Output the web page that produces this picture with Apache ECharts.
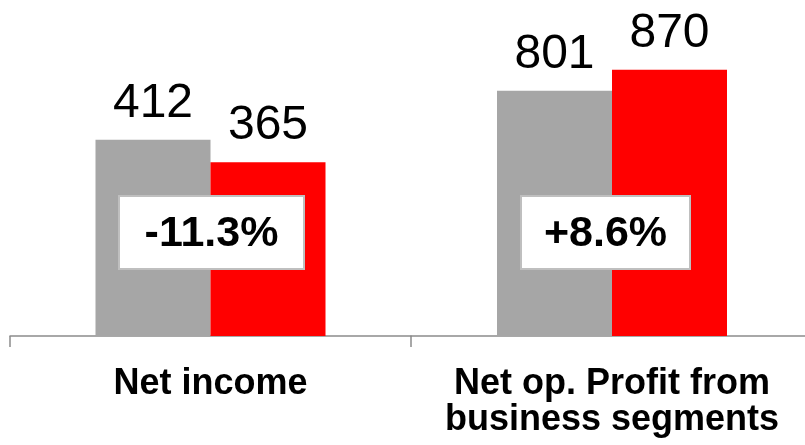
<!DOCTYPE html>
<html>
<head>
<meta charset="utf-8">
<script src="https://cdn.jsdelivr.net/npm/echarts@6/dist/echarts.min.js"></script>
<style>
  html, body { margin: 0; padding: 0; background: #fff; overflow: hidden; }
  /* 画布比窗口宽8px，右侧刻度落在可视区外 */
  #bar { width: 813px; height: 445px; }
</style>
</head>
<body>
<div id="bar"></div>
<script>
// 数据
var categories = ['Net income', 'Net op. Profit from\nbusiness segments'];
var priorValues = [412, 801];
var currentValues = [365, 870];
var changeLabels = ['-11.3%', '+8.6%'];
// 每组独立的y轴上限（原图两组比例不一致）
var axisMax = [630, 980];

var font = "'Liberation Sans', Arial, sans-serif";
var chart = echarts.init(document.getElementById('bar'));

var grids = [
  { left: 10, width: 401, top: 36, bottom: 109 },
  { left: 411, right: 0, top: 36, bottom: 109 }
];
var xAxes = [], yAxes = [], series = [];
categories.forEach(function (cat, i) {
  xAxes.push({
    type: 'category',
    gridIndex: i,
    data: [cat],
    axisLine: { lineStyle: { color: '#8c8c8c', width: 1.5 } },
    axisTick: { show: true, length: 11, lineStyle: { color: '#8c8c8c', width: 1.5 } },
    axisLabel: {
      margin: 30,
      color: '#000',
      fontFamily: font,
      fontWeight: 'bold',
      fontSize: 36,
      lineHeight: 36
    }
  });
  yAxes.push({ type: 'value', gridIndex: i, min: 0, max: axisMax[i], show: false, splitLine: { show: false } });
  var lbl = { show: true, position: 'top', distance: 12, color: '#000', fontFamily: font, fontSize: 48 };
  series.push({
    type: 'bar', xAxisIndex: i, yAxisIndex: i, barWidth: 115, barGap: 0,
    data: [priorValues[i]], itemStyle: { color: '#a6a6a6' }, label: lbl, silent: true
  });
  series.push({
    type: 'bar', xAxisIndex: i, yAxisIndex: i, barWidth: 115, barGap: 0,
    data: [currentValues[i]], itemStyle: { color: '#ff0000' }, label: lbl, silent: true
  });
});

// 变化率标注框
var boxes = [
  { cx: 211.5, w: 185 },
  { cx: 605.5, w: 169 }
];

chart.setOption({
  animation: false,
  grid: grids,
  xAxis: xAxes,
  yAxis: yAxes,
  series: series,
  graphic: boxes.map(function (b, i) {
    return {
      type: 'group',
      x: b.cx,
      y: 232.5,
      z: 100,
      children: [
        {
          type: 'rect',
          z: 100,
          shape: { x: -b.w / 2, y: -36.5, width: b.w, height: 73 },
          style: { fill: '#fff', stroke: '#bfbfbf', lineWidth: 2 }
        },
        {
          type: 'text',
          z: 101,
          style: {
            text: changeLabels[i], x: 0, y: 2, align: 'center', verticalAlign: 'middle',
            fill: '#000', font: 'bold 43px ' + font
          }
        }
      ]
    };
  })
});
</script>
</body>
</html>
